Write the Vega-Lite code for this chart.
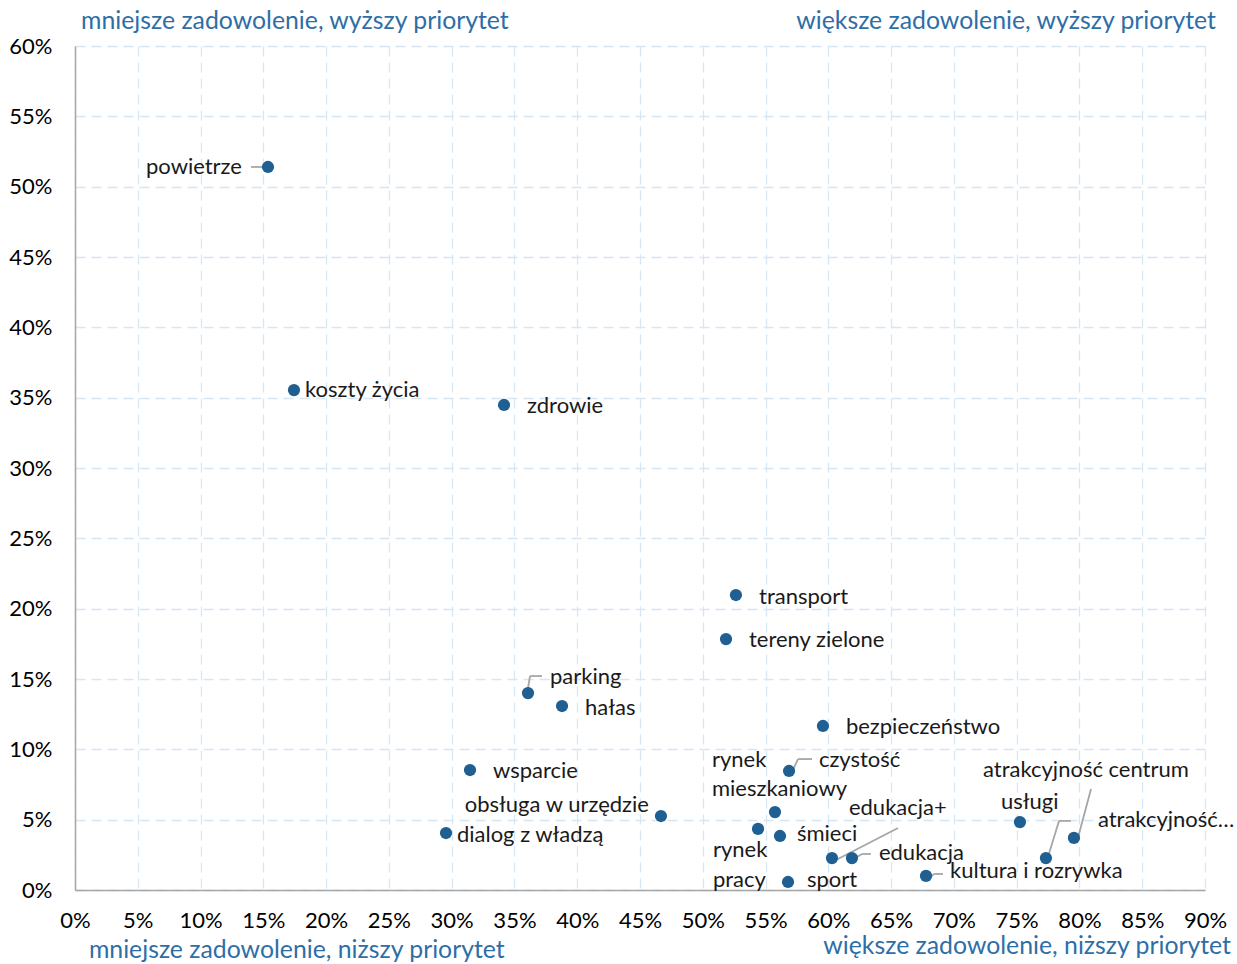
{
  "$schema": "https://vega.github.io/schema/vega-lite/v6.json",
  "width": 1130,
  "height": 844,
  "autosize": "none",
  "padding": {"left": 75, "top": 46, "right": 32, "bottom": 74},
  "background": "white",
  "config": {
    "view": {"stroke": null},
    "font": "Lato",
    "axis": {
      "labelFont": "Lato",
      "labelFontSize": 22,
      "labelColor": "#000000",
      "labelOverlap": false,
      "labelFlush": false,
      "grid": true,
      "gridColor": "#d5e6f5",
      "gridDash": [10, 6],
      "gridWidth": 1.3,
      "domainColor": "#a6a6a6",
      "domainWidth": 1.5,
      "ticks": false,
      "title": null
    }
  },
  "datasets": {
    "points": [
      {"name": "powietrze", "satisfaction": 15.37, "priority": 51.4},
      {"name": "koszty życia", "satisfaction": 17.44, "priority": 35.54},
      {"name": "zdrowie", "satisfaction": 34.17, "priority": 34.48},
      {"name": "transport", "satisfaction": 52.64, "priority": 20.97},
      {"name": "tereny zielone", "satisfaction": 51.85, "priority": 17.84},
      {"name": "parking", "satisfaction": 36.08, "priority": 14.0},
      {"name": "hałas", "satisfaction": 38.79, "priority": 13.08},
      {"name": "bezpieczeństwo", "satisfaction": 59.57, "priority": 11.66},
      {"name": "wsparcie", "satisfaction": 31.46, "priority": 8.53},
      {"name": "obsługa w urzędzie", "satisfaction": 46.67, "priority": 5.26},
      {"name": "dialog z władzą", "satisfaction": 29.55, "priority": 4.05},
      {"name": "czystość", "satisfaction": 56.87, "priority": 8.46},
      {"name": "rynek mieszkaniowy", "satisfaction": 55.75, "priority": 5.54},
      {"name": "rynek pracy", "satisfaction": 54.4, "priority": 4.34},
      {"name": "śmieci", "satisfaction": 56.15, "priority": 3.84},
      {"name": "edukacja+", "satisfaction": 60.29, "priority": 2.27},
      {"name": "edukacja", "satisfaction": 61.88, "priority": 2.27},
      {"name": "sport", "satisfaction": 56.79, "priority": 0.57},
      {"name": "kultura i rozrywka", "satisfaction": 67.78, "priority": 1.0},
      {"name": "atrakcyjność", "satisfaction": 75.26, "priority": 4.83},
      {"name": "usługi", "satisfaction": 77.33, "priority": 2.27},
      {"name": "atrakcyjność centrum", "satisfaction": 79.56, "priority": 3.7}
    ],
    "labels": [
      {"text": "powietrze", "lx": 13.3, "ly": 51.4, "side": "right"},
      {"text": "koszty życia", "lx": 18.32, "ly": 35.54, "side": "left"},
      {"text": "zdrowie", "lx": 36.0, "ly": 34.41, "side": "left"},
      {"text": "transport", "lx": 54.48, "ly": 20.83, "side": "left"},
      {"text": "tereny zielone", "lx": 53.68, "ly": 17.77, "side": "left"},
      {"text": "parking", "lx": 37.83, "ly": 15.14, "side": "left"},
      {"text": "hałas", "lx": 40.62, "ly": 12.94, "side": "left"},
      {"text": "bezpieczeństwo", "lx": 61.4, "ly": 11.59, "side": "left"},
      {"text": "wsparcie", "lx": 33.29, "ly": 8.46, "side": "left"},
      {"text": "obsługa w urzędzie", "lx": 45.71, "ly": 6.04, "side": "right"},
      {"text": "dialog z władzą", "lx": 30.42, "ly": 3.91, "side": "left"},
      {"text": "rynek", "lx": 50.73, "ly": 9.24, "side": "left"},
      {"text": "mieszkaniowy", "lx": 50.73, "ly": 7.18, "side": "left"},
      {"text": "czystość", "lx": 59.25, "ly": 9.24, "side": "left"},
      {"text": "edukacja+", "lx": 61.64, "ly": 5.83, "side": "left"},
      {"text": "śmieci", "lx": 57.5, "ly": 3.98, "side": "left"},
      {"text": "rynek", "lx": 50.81, "ly": 2.84, "side": "left"},
      {"text": "pracy", "lx": 50.81, "ly": 0.71, "side": "left"},
      {"text": "edukacja", "lx": 64.03, "ly": 2.63, "side": "left"},
      {"text": "sport", "lx": 58.3, "ly": 0.71, "side": "left"},
      {"text": "kultura i rozrywka", "lx": 69.69, "ly": 1.35, "side": "left"},
      {"text": "atrakcyjność centrum", "lx": 72.32, "ly": 8.53, "side": "left"},
      {"text": "usługi", "lx": 73.75, "ly": 6.26, "side": "left"},
      {"text": "atrakcyjność…", "lx": 81.47, "ly": 4.98, "side": "left"}
    ],
    "leaders": [
      {"x1": 14.02, "y1": 51.4, "x2": 14.97, "y2": 51.4},
      {"x1": 36.08, "y1": 14.36, "x2": 36.24, "y2": 15.21},
      {"x1": 36.24, "y1": 15.21, "x2": 37.19, "y2": 15.21},
      {"x1": 57.18, "y1": 8.53, "x2": 57.58, "y2": 9.31},
      {"x1": 57.58, "y1": 9.31, "x2": 58.7, "y2": 9.31},
      {"x1": 60.61, "y1": 2.13, "x2": 65.55, "y2": 4.41},
      {"x1": 62.28, "y1": 2.35, "x2": 62.68, "y2": 2.56},
      {"x1": 62.68, "y1": 2.56, "x2": 63.39, "y2": 2.56},
      {"x1": 67.94, "y1": 0.78, "x2": 68.41, "y2": 1.14},
      {"x1": 68.41, "y1": 1.14, "x2": 69.13, "y2": 1.14},
      {"x1": 77.49, "y1": 2.35, "x2": 78.37, "y2": 4.91},
      {"x1": 78.37, "y1": 4.91, "x2": 79.32, "y2": 4.91},
      {"x1": 80.92, "y1": 7.18, "x2": 79.88, "y2": 3.7}
    ],
    "corners": [
      {"text": "mniejsze zadowolenie, wyższy priorytet", "cx": 0.48, "cy": 61.7, "side": "left"},
      {"text": "większe zadowolenie, wyższy priorytet", "cx": 90.87, "cy": 61.7, "side": "right"},
      {"text": "mniejsze zadowolenie, niższy priorytet", "cx": 1.11, "cy": -4.34, "side": "left"},
      {"text": "większe zadowolenie, niższy priorytet", "cx": 92.07, "cy": -4.05, "side": "right"}
    ]
  },
  "layer": [
    {
      "data": {"name": "points"},
      "mark": {"type": "point", "opacity": 0},
      "encoding": {
        "x": {
          "field": "satisfaction", "type": "quantitative",
          "scale": {"domain": [0, 90], "nice": false, "zero": false},
          "axis": {"values": [0,5,10,15,20,25,30,35,40,45,50,55,60,65,70,75,80,85,90], "labelExpr": "datum.value + '%'", "labelPadding": 20, "domain": true}
        },
        "y": {
          "field": "priority", "type": "quantitative",
          "scale": {"domain": [0, 60], "nice": false, "zero": false},
          "axis": {"values": [0,5,10,15,20,25,30,35,40,45,50,55,60], "labelExpr": "datum.value + '%'", "labelPadding": 23, "domain": true}
        }
      }
    },
    {
      "mark": {"type": "rule", "color": "#5b9bd5", "strokeWidth": 1.2},
      "encoding": {"x": {"datum": 50.65, "type": "quantitative"}}
    },
    {
      "mark": {"type": "rule", "color": "#5b9bd5", "strokeWidth": 1.2},
      "encoding": {
        "y": {"datum": 11.73, "type": "quantitative"},
        "x": {"datum": 0, "type": "quantitative"},
        "x2": {"datum": 89.5}
      }
    },
    {
      "data": {"name": "leaders"},
      "mark": {"type": "rule", "color": "#a6a6a6", "strokeWidth": 1.8},
      "encoding": {
        "x": {"field": "x1", "type": "quantitative"},
        "y": {"field": "y1", "type": "quantitative"},
        "x2": {"field": "x2"},
        "y2": {"field": "y2"}
      }
    },
    {
      "data": {"name": "points"},
      "mark": {"type": "circle", "color": "#1f5f92", "opacity": 1, "size": 150},
      "encoding": {
        "x": {"field": "satisfaction", "type": "quantitative"},
        "y": {"field": "priority", "type": "quantitative"}
      }
    },
    {
      "data": {"name": "labels"},
      "transform": [{"filter": "datum.side === 'left'"}],
      "mark": {"type": "text", "align": "left", "baseline": "middle", "fontSize": 22, "font": "Lato", "color": "#1a1a1a"},
      "encoding": {
        "x": {"field": "lx", "type": "quantitative"},
        "y": {"field": "ly", "type": "quantitative"},
        "text": {"field": "text"}
      }
    },
    {
      "data": {"name": "labels"},
      "transform": [{"filter": "datum.side === 'right'"}],
      "mark": {"type": "text", "align": "right", "baseline": "middle", "fontSize": 22, "font": "Lato", "color": "#1a1a1a"},
      "encoding": {
        "x": {"field": "lx", "type": "quantitative"},
        "y": {"field": "ly", "type": "quantitative"},
        "text": {"field": "text"}
      }
    },
    {
      "data": {"name": "corners"},
      "transform": [{"filter": "datum.side === 'left'"}],
      "mark": {"type": "text", "align": "left", "baseline": "middle", "fontSize": 24.8, "font": "Lato", "color": "#2e6ea6"},
      "encoding": {
        "x": {"field": "cx", "type": "quantitative"},
        "y": {"field": "cy", "type": "quantitative"},
        "text": {"field": "text"}
      }
    },
    {
      "data": {"name": "corners"},
      "transform": [{"filter": "datum.side === 'right'"}],
      "mark": {"type": "text", "align": "right", "baseline": "middle", "fontSize": 24.8, "font": "Lato", "color": "#2e6ea6"},
      "encoding": {
        "x": {"field": "cx", "type": "quantitative"},
        "y": {"field": "cy", "type": "quantitative"},
        "text": {"field": "text"}
      }
    }
  ]
}
